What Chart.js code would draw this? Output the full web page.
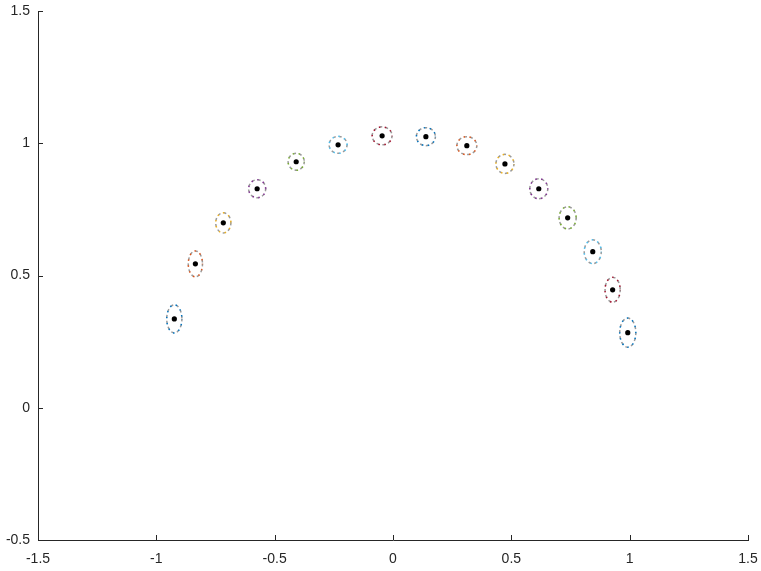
<!DOCTYPE html>
<html>
<head>
<meta charset="utf-8">
<script src="https://cdn.jsdelivr.net/npm/chart.js@4/dist/chart.umd.min.js"></script>
<style>
  html, body { margin: 0; padding: 0; background: #fff; }
  canvas { display: block; }
</style>
</head>
<body>
<canvas id="myChart" width="761" height="571"></canvas>
<script>
"use strict";

// #region Data
const centerX = [-0.924, -0.835, -0.717, -0.574, -0.409, -0.232, -0.046, 0.139, 0.312, 0.473, 0.616, 0.738, 0.844, 0.928, 0.992];
const centerY = [0.336, 0.544, 0.699, 0.828, 0.930, 0.994, 1.028, 1.025, 0.991, 0.922, 0.828, 0.718, 0.590, 0.446, 0.284];
// half-axes of the dotted ellipse round each point
const radiusX = [0.032, 0.030, 0.032, 0.036, 0.034, 0.038, 0.042, 0.040, 0.042, 0.038, 0.038, 0.036, 0.036, 0.032, 0.034];
const radiusY = [0.053, 0.049, 0.038, 0.034, 0.032, 0.032, 0.034, 0.034, 0.034, 0.036, 0.038, 0.042, 0.045, 0.047, 0.055];
const xTicks = [-1.5, -1, -0.5, 0, 0.5, 1, 1.5];
const yTicks = [-0.5, 0, 0.5, 1, 1.5];
// #endregion

const palette = ["#0072BD", "#D95319", "#EDB120", "#7E2F8E", "#77AC30", "#4DBEEE", "#A2142F"];
const axisColour = "#262626";

const points = centerX.map((x, i) => ({ x: x, y: centerY[i] }));

// #region Plugins
/* dotted ellipses: a grey dotted ring with a coloured one on top, nudged along the dash */
const ellipsePlugin = {
    id: "ellipses",
    beforeDatasetsDraw(chart) {
        const ctx = chart.ctx;
        const xs = chart.scales.x;
        const ys = chart.scales.y;
        ctx.save();
        centerX.forEach((x, i) => {
            const px = xs.getPixelForValue(x);
            const py = ys.getPixelForValue(centerY[i]);
            const rx = Math.abs(xs.getPixelForValue(x + radiusX[i]) - px);
            const ry = Math.abs(ys.getPixelForValue(centerY[i] + radiusY[i]) - py);
            ctx.lineWidth = 1.5;
            ctx.setLineDash([2.5, 3.5]);
            ctx.lineDashOffset = 0;
            ctx.strokeStyle = "#9a9a9a";
            ctx.beginPath();
            ctx.ellipse(px, py, rx, ry, 0, 0, Math.PI * 2);
            ctx.stroke();
            ctx.setLineDash([1.5, 4.5]);
            ctx.lineDashOffset = 1;
            ctx.strokeStyle = palette[i % palette.length];
            ctx.beginPath();
            ctx.ellipse(px, py, rx, ry, 0, 0, Math.PI * 2);
            ctx.stroke();
        });
        ctx.restore();
    },
};

/* MATLAB style ticks pointing into the plot */
const innerTicks = {
    id: "innerTicks",
    afterDraw(chart) {
        const ctx = chart.ctx;
        const area = chart.chartArea;
        const len = 5;
        ctx.save();
        ctx.strokeStyle = axisColour;
        ctx.lineWidth = 1;
        ctx.beginPath();
        chart.scales.x.ticks.forEach((t) => {
            const px = Math.round(chart.scales.x.getPixelForValue(t.value)) + 0.5;
            ctx.moveTo(px, area.bottom);
            ctx.lineTo(px, area.bottom - len);
        });
        chart.scales.y.ticks.forEach((t) => {
            const py = Math.round(chart.scales.y.getPixelForValue(t.value)) + 0.5;
            ctx.moveTo(area.left, py);
            ctx.lineTo(area.left + len, py);
        });
        ctx.stroke();
        ctx.restore();
    },
};

const whiteBackground = {
    id: "whiteBackground",
    beforeDraw(chart) {
        const ctx = chart.ctx;
        ctx.save();
        ctx.fillStyle = "#fff";
        ctx.fillRect(0, 0, chart.width, chart.height);
        ctx.restore();
    },
};
// #endregion

const tickFont = { family: "'Liberation Sans', Arial, sans-serif", size: 14 };

const config = {
    type: "scatter",
    data: {
        datasets: [
            {
                data: points,
                backgroundColor: "#000",
                borderColor: "#000",
                borderWidth: 0,
                pointRadius: 2.6,
                pointHoverRadius: 2.6,
            },
        ],
    },
    options: {
        responsive: false,
        animation: false,
        events: [],
        layout: { padding: { top: 11, right: 13, left: 0, bottom: 0 } },
        plugins: {
            legend: { display: false },
            tooltip: { enabled: false },
        },
        scales: {
            x: {
                type: "linear",
                min: -1.5,
                max: 1.5,
                afterBuildTicks: (scale) => {
                    scale.ticks = xTicks.map((v) => ({ value: v }));
                },
                afterFit: (scale) => {
                    scale.height = 31;
                    scale.paddingLeft = 0;
                    scale.paddingRight = 0;
                },
                grid: { display: false, drawTicks: false },
                border: { display: true, color: axisColour, width: 1 },
                ticks: {
                    color: axisColour,
                    font: tickFont,
                    padding: 11,
                    maxRotation: 0,
                    callback: (v) => String(Math.round(v * 10) / 10),
                },
            },
            y: {
                type: "linear",
                min: -0.5,
                max: 1.5,
                afterBuildTicks: (scale) => {
                    scale.ticks = yTicks.map((v) => ({ value: v }));
                },
                afterFit: (scale) => {
                    scale.width = 38;
                    scale.paddingTop = 0;
                    scale.paddingBottom = 0;
                },
                grid: { display: false, drawTicks: false },
                border: { display: true, color: axisColour, width: 1 },
                ticks: {
                    color: axisColour,
                    font: tickFont,
                    padding: 8,
                    callback: (v) => String(Math.round(v * 10) / 10),
                },
            },
        },
    },
    plugins: [whiteBackground, ellipsePlugin, innerTicks],
};

const myChart = new Chart(document.getElementById("myChart"), config);
</script>
</body>
</html>
